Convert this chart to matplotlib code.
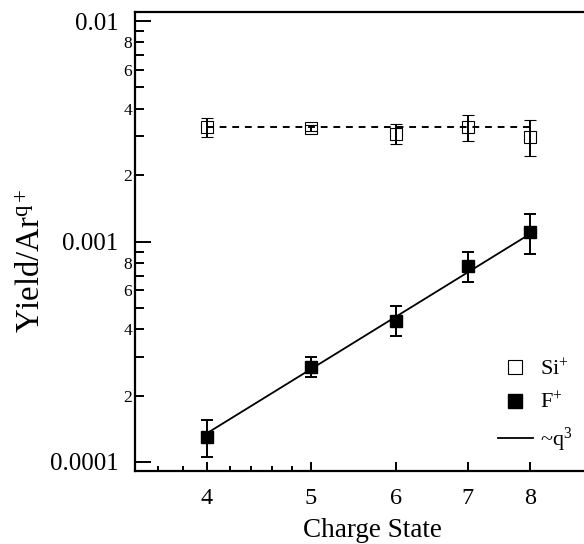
import numpy as np
import matplotlib.pyplot as plt
from matplotlib.lines import Line2D
from matplotlib.ticker import FixedLocator, NullFormatter, FuncFormatter, LogLocator

plt.rcParams['font.family'] = 'Liberation Serif'
plt.rcParams['mathtext.fontset'] = 'custom'
plt.rcParams['mathtext.rm'] = 'Liberation Serif'
plt.rcParams['mathtext.it'] = 'Liberation Serif:italic'

# charge states
q = [4, 5, 6, 7, 8]

# Si+ yield (open squares) with lower / upper error limits
si = [3.30e-3, 3.26e-3, 3.06e-3, 3.30e-3, 2.97e-3]
si_lo = [2.97e-3, 3.16e-3, 2.76e-3, 2.85e-3, 2.43e-3]
si_hi = [3.62e-3, 3.37e-3, 3.40e-3, 3.74e-3, 3.55e-3]

# F+ yield (filled squares)
f = [1.30e-4, 2.70e-4, 4.38e-4, 7.78e-4, 1.11e-3]
f_lo = [1.05e-4, 2.43e-4, 3.74e-4, 6.52e-4, 8.82e-4]
f_hi = [1.55e-4, 3.00e-4, 5.12e-4, 9.00e-4, 1.33e-3]

# constant Si+ level (dashed) and ~q^3 line end points
si_line_q = [4, 8]
si_line_y = [3.3e-3, 3.3e-3]
fit_q = [4, 8]
fit_y = [1.35e-4, 1.08e-3]

x_major = [4, 5, 6, 7, 8]
x_minor = [3.6, 3.8, 4.2, 4.4, 4.6, 4.8]

fig = plt.figure(figsize=(5.84, 5.44), dpi=100)
ax = fig.add_axes([135 / 584, 1 - 471 / 544, 449 / 584, 459 / 544])
ax.set_xscale('log')
ax.set_yscale('log')
ax.set_xlim(3.427, 8.99)
ax.set_ylim(9.1e-5, 1.099e-2)

si_err = [np.array(si) - np.array(si_lo), np.array(si_hi) - np.array(si)]
f_err = [np.array(f) - np.array(f_lo), np.array(f_hi) - np.array(f)]

ax.plot(si_line_q, si_line_y, color='k', lw=1.4, dashes=(3.5, 3), zorder=1)
ax.plot(fit_q, fit_y, color='k', lw=1.3, zorder=1)
ax.errorbar(q, si, yerr=si_err, fmt='s', ms=8.5, mfc='none', mec='k', mew=0.8,
            ecolor='k', elinewidth=1.4, capsize=4, capthick=1.4, zorder=3)
ax.errorbar(q, f, yerr=f_err, fmt='s', ms=9, mfc='k', mec='k',
            ecolor='k', elinewidth=1.4, capsize=4, capthick=1.4, zorder=3)

# axes styling
for side in ['left', 'bottom', 'top']:
    ax.spines[side].set_linewidth(1.6)
ax.spines['right'].set_visible(False)

ax.xaxis.set_major_locator(FixedLocator(x_major))
ax.xaxis.set_minor_locator(FixedLocator(x_minor))
ax.xaxis.set_major_formatter(FuncFormatter(lambda v, p: '%d' % round(v)))
ax.xaxis.set_minor_formatter(NullFormatter())

ax.yaxis.set_major_locator(LogLocator(base=10))
ax.yaxis.set_minor_locator(LogLocator(base=10, subs=np.arange(2, 10)))


def major_fmt(v, pos):
    return {-2: '0.01', -3: '0.001', -4: '0.0001'}.get(int(round(np.log10(v))), '')


def minor_fmt(v, pos):
    d = int(round(v / 10 ** np.floor(np.log10(v) + 1e-9)))
    return str(d) if d in (2, 4, 6, 8) else ''


ax.yaxis.set_major_formatter(FuncFormatter(major_fmt))
ax.yaxis.set_minor_formatter(FuncFormatter(minor_fmt))

ax.tick_params(which='both', direction='in', top=False, right=False, width=1.4)
ax.tick_params(axis='x', which='major', length=6.5, labelsize=17.5, pad=12)
ax.tick_params(axis='x', which='minor', length=3.6)
ax.tick_params(axis='y', which='major', length=11.5, labelsize=18, pad=12)
ax.tick_params(axis='y', which='minor', length=6.5, labelsize=12.5, pad=2)

fig.text(372 / 584, 1 - 537 / 544, 'Charge State', fontsize=19.5,
         ha='center', va='baseline')
fig.text(32 / 584, 1 - 261 / 544, r'Yield/Ar$^{\mathrm{q+}}$', fontsize=23.5,
         rotation=90, ha='center', va='center')

handles = [
    Line2D([], [], ls='none', marker='s', ms=10, mfc='none', mec='k', mew=0.8),
    Line2D([], [], ls='none', marker='s', ms=10, mfc='k', mec='k'),
    Line2D([], [], color='k', lw=1.3),
]
labels = [r'Si$^{+}$', r'F$^{+}$', r'~q$^{3}$']
ax.legend(handles, labels, loc='lower right', bbox_to_anchor=(0.974, 0.037),
          frameon=False, fontsize=16, handlelength=1.6, handletextpad=0.3,
          labelspacing=0.55, borderpad=0, borderaxespad=0)

fig.savefig('out.png', dpi=100)
